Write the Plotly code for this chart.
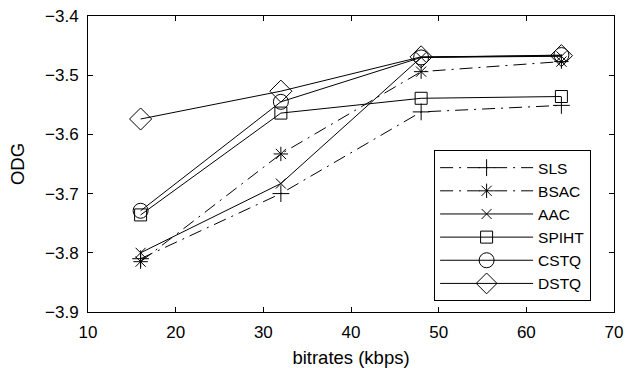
import plotly.graph_objects as go

bitrates = [16, 32, 48, 64]
sls = [-3.810, -3.700, -3.562, -3.551]
bsac = [-3.815, -3.633, -3.494, -3.477]
aac = [-3.800, -3.683, -3.470, -3.468]
spiht = [-3.736, -3.564, -3.539, -3.536]
cstq = [-3.729, -3.545, -3.470, -3.466]
dstq = [-3.574, -3.527, -3.469, -3.467]

series = [
    ("SLS", sls, "cross-thin-open", 12, "13px,6px,2px,6px"),
    ("BSAC", bsac, "asterisk-open", 12, "13px,6px,2px,6px"),
    ("AAC", aac, "x-thin-open", 10, "solid"),
    ("SPIHT", spiht, "square-open", 12, "solid"),
    ("CSTQ", cstq, "circle-open", 15, "solid"),
    ("DSTQ", dstq, "diamond-open", 17, "solid"),
]

FONT = "Liberation Sans, Arial"

fig = go.Figure()
for name, vals, sym, size, dash in series:
    fig.add_trace(go.Scatter(
        x=bitrates, y=vals, name=name, mode="lines+markers",
        line=dict(color="black", width=1, dash=dash),
        marker=dict(symbol=sym, size=size, color="black",
                    line=dict(color="black", width=1)),
    ))

axis_common = dict(
    showline=True, linecolor="black", linewidth=1, mirror="ticks",
    ticks="inside", ticklen=5, tickcolor="black", showgrid=False,
    zeroline=False, ticklabelstandoff=5, automargin=False,
    tickfont=dict(family=FONT, size=17, color="black"),
)
fig.update_xaxes(range=[10, 70], dtick=10, tick0=10,
                 title=dict(text="bitrates (kbps)",
                            font=dict(family=FONT, size=18.5, color="black")),
                 **axis_common)
fig.update_yaxes(range=[-3.9, -3.4], dtick=0.1, tick0=-3.9, tickformat=".1f",
                 title=dict(text="ODG",
                            font=dict(family=FONT, size=18.5, color="black")),
                 **axis_common)

fig.update_layout(
    width=625, height=368,
    margin=dict(l=88, r=11, t=16, b=56),
    paper_bgcolor="white", plot_bgcolor="white",
    font=dict(family=FONT, color="black"),
    legend=dict(x=0.658, y=0.547, xanchor="left", yanchor="top",
                bgcolor="white", bordercolor="black", borderwidth=1,
                font=dict(size=15.5, color="black"), itemwidth=93,
                tracegroupgap=0),
)

fig.write_html("out.html")
